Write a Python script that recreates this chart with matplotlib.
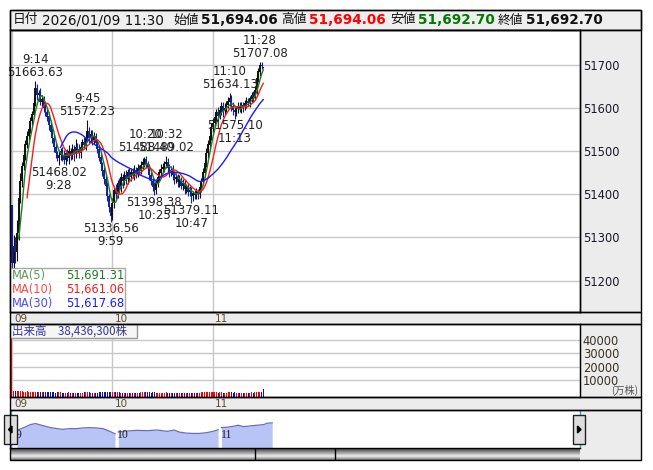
import matplotlib
matplotlib.use('Agg')
import matplotlib.pyplot as plt
from matplotlib.patches import Rectangle, Polygon
import numpy as np
import pandas as pd

# DATOS
# -----
# cierres de cada minuto, 9:00 a 11:30
cierres = [
    51240, 51280, 51265, 51310, 51390, 51430, 51465, 51490, 51515, 51535,
    51550, 51570, 51585, 51610, 51645, 51630, 51635, 51615, 51620, 51600,
    51590, 51580, 51560, 51545, 51530, 51510, 51495, 51485, 51490, 51500,
    51490, 51480, 51495, 51485, 51500, 51490, 51505, 51495, 51510, 51505,
    51495, 51510, 51520, 51515, 51530, 51545, 51530, 51540, 51525, 51535,
    51520, 51505, 51485, 51470, 51455, 51435, 51420, 51395, 51370, 51350,
    51380, 51410, 51400, 51425, 51415, 51440, 51430, 51445, 51435, 51450,
    51440, 51452, 51445, 51455, 51448, 51460, 51455, 51468, 51475, 51480,
    51470, 51460, 51445, 51430, 51418, 51410, 51425, 51440, 51450, 51458,
    51462, 51470, 51475, 51462, 51450, 51455, 51445, 51435, 51440, 51428,
    51432, 51420, 51425, 51412, 51418, 51405, 51410, 51395, 51402, 51398,
    51405, 51400, 51415, 51430, 51450, 51472, 51495, 51515, 51535, 51555,
    51565, 51578, 51590, 51582, 51595, 51605, 51592, 51600, 51608, 51615,
    51622, 51605, 51595, 51590, 51598, 51605, 51598, 51607, 51603, 51610,
    51615, 51612, 51622, 51630, 51626, 51642, 51668, 51684, 51700, 51698,
    51692.70,
]
apertura_inicial = 51374.0
apertura_final = 51694.06

# mechas (puntos por encima / por debajo del cuerpo)
mecha_sup = [
    0,
    25, 20, 30, 15, 20, 10, 15, 10, 12, 8,
    10, 8, 12, 18, 10, 8, 12, 10, 8, 10,
    8, 10, 12, 8, 10, 8, 6, 10, 8, 10,
    12, 8, 10, 15, 8, 12, 10, 18, 8, 12,
    10, 8, 12, 10, 0, 12, 10, 8, 10, 8,
    8, 10, 8, 6, 8, 10, 8, 6, 8, 12,
    10, 15, 8, 12, 10, 8, 10, 12, 8, 10,
    8, 10, 12, 8, 10, 8, 10, 8, 6, 0,
    8, 10, 6, 8, 10, 8, 10, 8, 12, 10,
    8, 0, 10, 8, 10, 12, 8, 10, 8, 12,
    8, 10, 8, 6, 8, 10, 8, 6, 8, 10,
    8, 10, 8, 10, 8, 12, 10, 8, 10, 12,
    10, 8, 12, 10, 8, 10, 12, 8, 10, 0,
    8, 10, 8, 6, 8, 10, 8, 6, 8, 10,
    8, 6, 8, 10, 8, 10, 8, 0, 6, 0,
]
mecha_inf = [
    10,
    30, 25, 20, 15, 10, 12, 8, 10, 8, 10,
    8, 10, 8, 6, 12, 10, 8, 12, 10, 8,
    10, 12, 8, 10, 12, 10, 8, 0, 10, 12,
    10, 12, 8, 15, 10, 8, 18, 10, 8, 12,
    10, 8, 10, 12, 8, 10, 8, 10, 8, 12,
    10, 8, 10, 12, 10, 8, 10, 12, 0, 10,
    12, 10, 8, 12, 10, 15, 8, 10, 12, 8,
    10, 8, 12, 10, 8, 10, 8, 10, 12, 8,
    10, 12, 8, 10, 0, 10, 8, 10, 12, 8,
    10, 8, 12, 10, 8, 12, 10, 8, 10, 12,
    8, 10, 12, 8, 10, 8, 0, 10, 8, 10,
    12, 8, 10, 8, 10, 8, 10, 12, 8, 10,
    8, 10, 12, 8, 10, 12, 8, 10, 8, 10,
    12, 10, 0, 8, 10, 8, 10, 12, 8, 10,
    8, 10, 8, 12, 8, 10, 8, 10, 8, 0,
]

# volumen por minuto (万株, como se ve en el panel)
volumen = [
    42000,
    1900, 1600, 1500, 1700, 1400, 1500, 1300, 1200, 1400, 1100,
    1000, 900, 1100, 1200, 900, 800, 950, 700, 850, 800,
    700, 750, 650, 800, 700, 600, 750, 650, 700, 600,
    550, 600, 500, 650, 550, 500, 600, 550, 500, 600,
    550, 600, 650, 700, 800, 650, 600, 550, 600, 500,
    600, 700, 750, 800, 850, 900, 950, 1000, 1100, 900,
    800, 750, 700, 650, 600, 550, 600, 500, 550, 500,
    600, 550, 500, 600, 550, 500, 650, 700, 750, 800,
    700, 650, 600, 700, 750, 600, 550, 600, 500, 550,
    600, 650, 550, 500, 450, 500, 550, 450, 500, 450,
    500, 450, 550, 500, 450, 500, 600, 550, 500, 450,
    500, 600, 700, 800, 850, 900, 850, 800, 750, 700,
    650, 700, 600, 650, 700, 600, 550, 600, 650, 700,
    650, 600, 700, 550, 500, 550, 500, 450, 500, 550,
    500, 600, 650, 600, 700, 800, 850, 900, 750, 3500,
]

# maximos y minimos marcados
ext_min = [14, 28, 45, 59, 80, 85, 92, 107, 130, 133, 148]
ext_precio = [51663.63, 51468.02, 51572.23, 51336.56, 51488.40, 51398.38,
              51489.02, 51379.11, 51634.13, 51575.10, 51707.08]
ext_tipo = ['H', 'L', 'H', 'L', 'H', 'L', 'H', 'L', 'H', 'L', 'H']

cab_fecha = '2026/01/09 11:30'
cab_nombres = ['始値', '高値', '安値', '終値']
cab_valores = [51694.06, 51694.06, 51692.70, 51692.70]
cab_colores = ['#111111', '#ff0000', '#007a00', '#111111']

ma_periodos = [5, 10, 30]
ma_valores = [51691.31, 51661.06, 51617.68]
ma_colores = ['#1e7d1e', '#ff1a1a', '#1a1aff']
ma_colores_txt = ['#5f9a5f', '#ff4a4a', '#4a4aff']
volumen_total = 38436300

precio_ticks = [51200, 51300, 51400, 51500, 51600, 51700]
vol_ticks = [10000, 20000, 30000, 40000]
horas = ['09', '10', '11']
horas_min = [0, 60, 120]

# mini grafico del navegador (tres tramos)
nav_t1 = [0, 5, 8, 11, 16, 20, 24, 27, 31, 35, 39, 43, 47, 51, 55, 58]
nav_v1 = [52, 62, 69, 72, 65, 60, 57, 55, 57, 57, 59, 60, 59, 57, 49, 42]
nav_t2 = [60, 65, 71, 77, 83, 89, 93, 96, 100, 104, 108, 112, 116, 119]
nav_v2 = [47, 50, 52, 51, 53, 49, 53, 47, 44, 43, 43, 45, 49, 54]
nav_t3 = [121, 124, 128, 131, 134, 138, 142, 146, 148, 151]
nav_v3 = [60, 61, 64, 67, 63, 65, 67, 69, 73, 74]

W, H = 653, 470
GRIS = '#ececec'
fig = plt.figure(figsize=(W / 100, H / 100), dpi=100)


def rect(x0, y0, x1, y1):
    return [x0 / W, 1 - y1 / H, (x1 - x0) / W, (y1 - y0) / H]


def caja(x0, y0, x1, y1, fc='none', ec='black', lw=1, z=-1, **kw):
    r = Rectangle((x0 / W, 1 - y1 / H), (x1 - x0) / W, (y1 - y0) / H,
                  transform=fig.transFigure, facecolor=fc, edgecolor=ec,
                  linewidth=lw, zorder=z, **kw)
    fig.add_artist(r)


def texto(x, y, s, **kw):
    kw.setdefault('va', 'center')
    kw.setdefault('zorder', 8)
    fig.text(x / W, 1 - y / H, s, **kw)


# fondos grises
caja(10, 10, 641, 30, fc='#efefef')
caja(580, 30, 641, 312, fc=GRIS, ec='none')
caja(10, 312, 641, 324, fc=GRIS, ec='none')
caja(580, 324, 641, 397, fc=GRIS, ec='none')
caja(10, 397, 641, 410, fc=GRIS, ec='none')
caja(580, 410, 641, 460, fc=GRIS, ec='none')

# cabecera
fuente_cab = ['DejaVu Sans', 'Noto Sans CJK JP']
texto(13, 20, '日付', family=fuente_cab, fontsize=9.2, color='#111')
texto(42, 20, cab_fecha, family=fuente_cab, fontsize=9.8, color='#111')
pos_nombre = [173, 281, 390, 498]
pos_valor = [201, 309, 418, 526]
for nom, val, col, xn, xv in zip(cab_nombres, cab_valores, cab_colores, pos_nombre, pos_valor):
    texto(xn, 20, nom, family=fuente_cab, fontsize=9.2, color='#111')
    texto(xv, 20, f'{val:,.2f}', family=fuente_cab, fontsize=9.8,
          fontweight='bold', color=col)

# velas
minutos = np.arange(len(cierres))
c = np.array(cierres, dtype=float)
o = np.r_[apertura_inicial, c[:-1]]
o[-1] = apertura_final
hi = np.maximum(o, c) + np.array(mecha_sup)
lo = np.minimum(o, c) - np.array(mecha_inf)
for m, p, t in zip(ext_min, ext_precio, ext_tipo):
    if t == 'H':
        hi[m] = p
    else:
        lo[m] = p
sube = c >= o
col_vela = np.where(sube, '#111111', '#12239a')

ax = fig.add_axes(rect(10, 30, 580, 312))
ax.set_xlim(-1.19, 339.1)
ax.set_ylim(51127, 51781)
ax.set_yticks(precio_ticks)
ax.yaxis.tick_right()
ax.tick_params(axis='y', length=0, pad=2, labelsize=8.3, labelcolor='#1a1a2a')
ax.set_xticks(horas_min)
ax.set_xticklabels([])
ax.tick_params(axis='x', length=0)
ax.grid(color='#c8c8c8', lw=1)
ax.set_axisbelow(True)
for s in ax.spines.values():
    s.set_linewidth(1)

ax.vlines(minutos, lo, hi, colors=col_vela, lw=0.8)
ax.vlines(minutos, np.minimum(o, c), np.maximum(o, c) + 0.8, colors=col_vela, lw=1.4)

serie = pd.Series(c)
for n, col in zip(ma_periodos, ma_colores):
    ax.plot(minutos, serie.rolling(n).mean(), color=col, lw=1)

for m, p, t in zip(ext_min, ext_precio, ext_tipo):
    hora = f'{9 + m // 60}:{m % 60:02d}'
    if t == 'H':
        s, va, dy = f'{hora}\n{p:.2f}', 'bottom', 1.5
    else:
        s, va, dy = f'{p:.2f}\n{hora}', 'top', -0.5
    ax.annotate(s, (m, p), xytext=(0, dy), textcoords='offset points',
                ha='center', va=va, fontsize=8.5, linespacing=1.0, color='#222222')

# leyenda de medias
caja(10, 268, 125, 312, fc='white', ec='#a0a0a0', z=5, alpha=0.9)
for i, (n, v, ct, cv) in enumerate(zip(ma_periodos, ma_valores, ma_colores_txt, ma_colores)):
    y = 276 + i * 14
    texto(12, y, f'MA({n})', fontsize=8.3, color=ct)
    texto(124, y, f'{v:,.2f}', fontsize=8.3, color=cv, ha='right')

# franjas de horas
for y0, y1 in [(312, 324), (397, 410)]:
    at = fig.add_axes(rect(10, y0, 641, y1))
    at.set_xlim(-1.19, 375.5)
    at.set_ylim(0, 1)
    at.axis('off')
    for h, m in zip(horas, horas_min):
        at.annotate(h, (m, 0.45), xytext=(1.5, 0), textcoords='offset points',
                    ha='left', va='center', fontsize=7.5, color='#5c4a2e')

# volumen (color segun el cierre anterior)
vol_fondo = -2750
av = fig.add_axes(rect(10, 324, 580, 397))
av.set_xlim(-1.19, 339.1)
av.set_ylim(vol_fondo, 52000)
sube_vol = np.r_[True, c[1:] >= c[:-1]]
col_vol = np.where(sube_vol, '#ff0000', '#1010c0')
av.bar(minutos, np.array(volumen) - vol_fondo, bottom=vol_fondo, width=0.6,
       color=col_vol, linewidth=0)
av.set_yticks(vol_ticks)
av.yaxis.tick_right()
av.tick_params(axis='y', length=0, pad=2, labelsize=8.3, labelcolor='#3a3320')
av.set_xticks(horas_min)
av.set_xticklabels([])
av.tick_params(axis='x', length=0)
av.grid(color='#c8c8c8', lw=1)
av.set_axisbelow(True)
texto(638, 390, '(万株)', family=['Noto Sans CJK JP'], fontsize=7.3, color='#555555', ha='right')

caja(10, 324, 137, 338, fc='#f6f6f6', ec='#999999', z=5)
texto(12, 331, f'出来高　{volumen_total:,}株', family=['Noto Sans CJK JP', 'DejaVu Sans'],
      fontsize=8.3, color='#3535a0')

# navegador
an = fig.add_axes(rect(10, 411, 580, 448))
an.set_xlim(-4.1, 333.1)
an.set_ylim(0, 109)
an.axis('off')
for t, v in [(nav_t1, nav_v1), (nav_t2, nav_v2), (nav_t3, nav_v3)]:
    an.fill_between(t, v, 0, color='#b8c3f6', lw=0)
    an.plot(t, v, color='#6d6db8', lw=0.9)
for h, x in zip(horas, [-4.0, 59.2, 120.7]):
    an.text(x, 37, h, family='Liberation Serif', fontsize=8.5, color='#222', va='center')

# barra de desplazamiento
ab = fig.add_axes(rect(10, 448, 580, 460))
grad = np.r_[np.linspace(0.25, 0.88, 8), np.linspace(0.88, 0.5, 4)].reshape(-1, 1)
ab.imshow(grad, cmap='gray', vmin=0, vmax=1, aspect='auto', extent=[0, 570, 0, 1])
ab.set_xlim(0, 570)
ab.axvline(245, color='black', lw=1)
ab.axvline(325, color='black', lw=1)
ab.axis('off')

fig.add_artist(plt.Line2D([10.5 / W, 10.5 / W], [1 - 411 / H, 1 - 448 / H], color='#19b0e0', lw=1, zorder=7))
fig.add_artist(plt.Line2D([579.5 / W, 579.5 / W], [1 - 411 / H, 1 - 448 / H], color='#19b0e0', lw=1, zorder=7))

# botones
for x0, x1, izq in [(4, 17, True), (573, 585, False)]:
    caja(x0, 415, x1, 444, fc='#dedede', ec='#222222', z=9)
    xc = (x0 + x1) / 2
    if izq:
        pts = [(xc - 2, 429.5), (xc + 1.5, 426), (xc + 1.5, 433)]
    else:
        pts = [(xc + 2, 429.5), (xc - 1.5, 426), (xc - 1.5, 433)]
    fig.add_artist(Polygon([(x / W, 1 - y / H) for x, y in pts], closed=True,
                           transform=fig.transFigure, color='black', zorder=10))

# bordes
caja(10, 10, 641, 30, z=9)
caja(10, 30, 641, 312, z=9)
caja(10, 312, 641, 324, z=9)
caja(10, 324, 641, 397, z=9)
caja(10, 397, 641, 410, z=9)
caja(10, 410, 641, 460, z=9)
fig.add_artist(plt.Line2D([580 / W, 580 / W], [1 - 30 / H, 1 - 312 / H], color='black', lw=1, zorder=9))
fig.add_artist(plt.Line2D([580 / W, 580 / W], [1 - 324 / H, 1 - 397 / H], color='black', lw=1, zorder=9))
fig.add_artist(plt.Line2D([10 / W, 580 / W], [1 - 448 / H, 1 - 448 / H], color='black', lw=1, zorder=9))

fig.savefig('out.png', dpi=100)
